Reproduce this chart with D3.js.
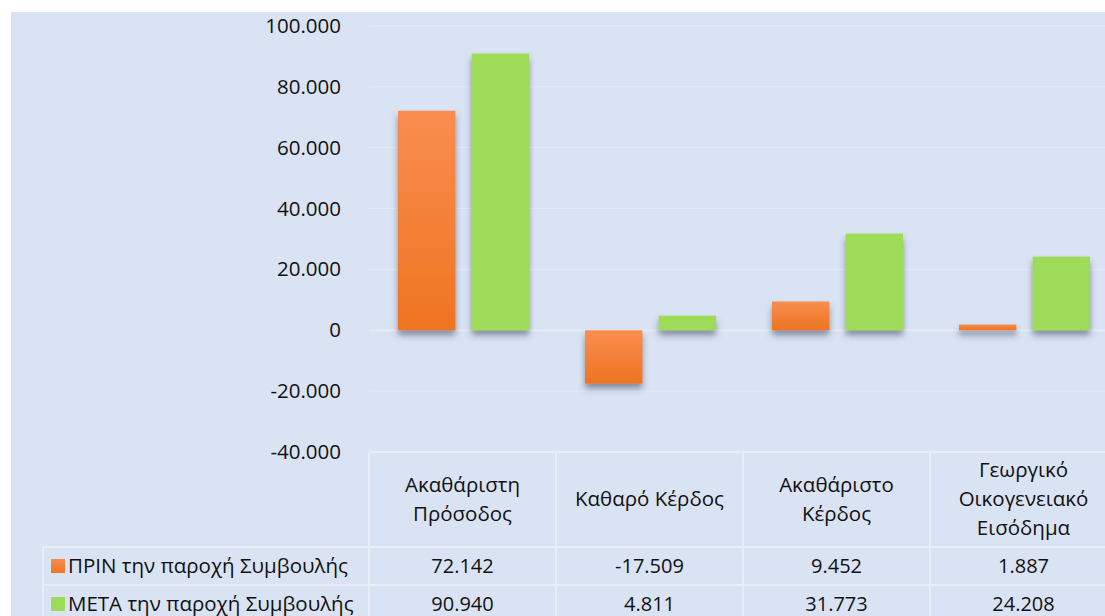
<!DOCTYPE html>
<html>
<head>
<meta charset="utf-8">
<script src="https://cdn.jsdelivr.net/npm/d3@7"></script>
<style>
  html, body { margin: 0; padding: 0; background: #ffffff; }
  svg { display: block; }
  text { font-family: "Open Sans", "Noto Sans", sans-serif; fill: #111; }
</style>
</head>
<body>
<svg id="chart" width="1105" height="616"></svg>
<script>
// Categories (multi-line header labels) and series values
const categories = [
  ["Ακαθάριστη", "Πρόσοδος"],
  ["Καθαρό Κέρδος"],
  ["Ακαθάριστο", "Κέρδος"],
  ["Γεωργικό", "Οικογενειακό", "Εισόδημα"]
];
const seriesNames = ["ΠΡΙΝ την παροχή Συμβουλής", "ΜΕΤΑ την παροχή Συμβουλής"];
const beforeValues = [72142, -17509, 9452, 1887];
const afterValues = [90940, 4811, 31773, 24208];
const yTicks = [-40000, -20000, 0, 20000, 40000, 60000, 80000, 100000];

const W = 1105, H = 616;
const svg = d3.select("#chart");
// Greek number style: dot as thousands separator, plain hyphen for negatives
const fmt = v => d3.format(",")(v).replace(/,/g, ".").replace("\u2212", "-");

// Chart background panel
svg.append("rect").attr("x", 11).attr("y", 12).attr("width", W - 11).attr("height", H - 12)
  .attr("fill", "#DAE3F3");

const defs = svg.append("defs");
const og = defs.append("linearGradient").attr("id", "orangeGrad")
  .attr("x1", 0).attr("y1", 0).attr("x2", 0).attr("y2", 1);
og.append("stop").attr("offset", "0%").attr("stop-color", "#F98D50");
og.append("stop").attr("offset", "100%").attr("stop-color", "#EE7421");
const sh = defs.append("filter").attr("id", "shadow")
  .attr("x", "-20%").attr("y", "-20%").attr("width", "140%").attr("height", "160%");
sh.append("feDropShadow").attr("dx", 0).attr("dy", 5).attr("stdDeviation", 3)
  .attr("flood-color", "#3b4658").attr("flood-opacity", 0.55);

const plotLeft = 369;
const x0 = d3.scaleBand().domain(d3.range(categories.length))
  .range([plotLeft, plotLeft + 4 * 187]).paddingInner(0).paddingOuter(0);
const x1 = d3.scaleBand().domain([0, 1]).range([0, x0.bandwidth()])
  .paddingInner(0.22).paddingOuter(0.38);
const y = d3.scaleLinear().domain([-40000, 100000]).range([452, 26]);

// Gridlines
svg.append("g").selectAll("line").data(yTicks.filter(t => t > -40000)).join("line")
  .attr("x1", plotLeft).attr("x2", W)
  .attr("y1", d => y(d)).attr("y2", d => y(d))
  .attr("stroke", "#E6ECF7").attr("stroke-width", d => d === 0 ? 2 : 1);

// Y axis labels
const yAxis = d3.axisLeft(y).tickValues(yTicks).tickSize(0).tickPadding(0).tickFormat(fmt);
const yg = svg.append("g").attr("transform", "translate(341,0)").call(yAxis);
yg.select(".domain").remove();
yg.selectAll("text").style("font-size", "20.5px").attr("fill", "#111")
  .style("font-family", "'Open Sans', sans-serif");

// Bars
const colors = ["url(#orangeGrad)", "#9DDB59"];
const series = [beforeValues, afterValues];
series.forEach((vals, si) => {
  svg.append("g").attr("filter", "url(#shadow)").selectAll("rect").data(vals).join("rect")
    .attr("x", (d, i) => x0(i) + x1(si) + 1)
    .attr("width", x1.bandwidth())
    .attr("y", d => y(Math.max(0, d)))
    .attr("height", d => Math.abs(y(d) - y(0)))
    .attr("fill", colors[si]);
});

// Data table
const lineColor = "#E8EDF7";
const tbl = svg.append("g");
const rowTop = 547, rowMid = 585;
tbl.append("line").attr("x1", plotLeft).attr("x2", W).attr("y1", 452).attr("y2", 452)
  .attr("stroke", lineColor).attr("stroke-width", 2);
[rowTop, rowMid].forEach(yy => tbl.append("line").attr("x1", 43).attr("x2", W)
  .attr("y1", yy).attr("y2", yy).attr("stroke", lineColor).attr("stroke-width", 2));
tbl.append("line").attr("x1", 43).attr("x2", 43).attr("y1", rowTop).attr("y2", H)
  .attr("stroke", lineColor).attr("stroke-width", 2);
d3.range(categories.length).forEach(i => {
  tbl.append("line").attr("x1", x0(i)).attr("x2", x0(i)).attr("y1", 452).attr("y2", H)
    .attr("stroke", lineColor).attr("stroke-width", 2);
});

// Header labels
categories.forEach((lines, i) => {
  const cx = x0(i) + x0.bandwidth() / 2;
  const lh = 29, mid = 499;
  const t = tbl.append("text").attr("text-anchor", "middle").style("font-size", "20.5px");
  lines.forEach((ln, k) => {
    t.append("tspan").attr("x", cx)
      .attr("y", mid + (k - (lines.length - 1) / 2) * lh)
      .attr("dy", "0.35em").text(ln);
  });
});

// Value rows with legend keys
const rowCenters = [566, 604];
series.forEach((vals, si) => {
  const cy = rowCenters[si];
  tbl.append("rect").attr("x", 51).attr("y", cy - 7).attr("width", 14).attr("height", 14)
    .attr("fill", colors[si]);
  tbl.append("text").attr("x", 68).attr("y", cy).attr("dy", "0.35em")
    .style("font-size", "20.5px").text(seriesNames[si]);
  vals.forEach((v, i) => {
    tbl.append("text").attr("x", x0(i) + x0.bandwidth() / 2).attr("y", cy).attr("dy", "0.35em")
      .attr("text-anchor", "middle").style("font-size", "20px").text(fmt(v));
  });
});
</script>
</body>
</html>
